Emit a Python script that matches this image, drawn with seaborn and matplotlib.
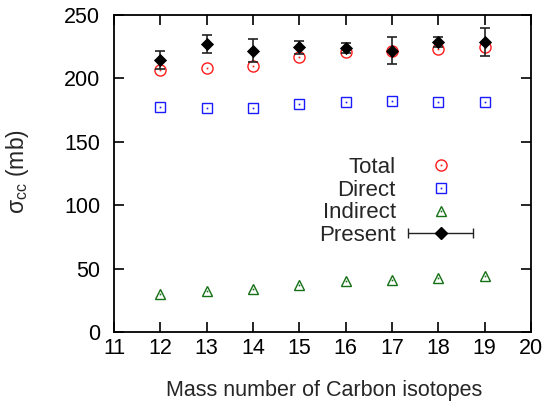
import numpy as np
import pandas as pd
import matplotlib
matplotlib.use("Agg")
import matplotlib.pyplot as plt
import seaborn as sns
from matplotlib.legend_handler import HandlerErrorbar, HandlerTuple
from matplotlib.lines import Line2D

# ---- data ----
mass = [12, 13, 14, 15, 16, 17, 18, 19]
total = [207, 208, 210, 217, 220.5, 222, 223, 225]
direct = [177.5, 176.5, 177, 180, 181, 182, 181, 181.5]
indirect = [30, 32.5, 34, 37.3, 40, 41.2, 42.6, 44.2]
present = [214.5, 227, 222, 224.5, 224, 222, 228.5, 229]
present_err = [7, 7, 9, 5, 4, 11, 4, 11]

xticks = list(range(11, 21))
yticks = [0, 50, 100, 150, 200, 250]

sns.set_theme(style="ticks")
plt.rcParams['font.family'] = ['Liberation Sans', 'DejaVu Sans']
plt.rcParams['mathtext.default'] = 'regular'

fig = plt.figure(figsize=(5.49, 4.04), dpi=100)
ax = fig.add_axes([114/549, 72/404, (531-114)/549, (332-15)/404])

df = pd.DataFrame(dict(mass=mass, total=total, direct=direct,
                       indirect=indirect, present=present, err=present_err))

red = '#ff1a1a'
blue = '#1a1aff'
green = '#147014'

def hollow(col, marker, color, ms):
    sns.lineplot(data=df, x='mass', y=col, ax=ax, marker=marker, linestyle='',
                 markersize=ms, markerfacecolor='none', markeredgecolor=color,
                 markeredgewidth=1.0, color=color, errorbar=None)
    sns.lineplot(data=df, x='mass', y=col, ax=ax, marker='s', linestyle='',
                 markersize=1.2, markerfacecolor=color, markeredgecolor=color,
                 markeredgewidth=0, color=color, errorbar=None)

hollow('total', 'o', red, 8)
hollow('direct', 's', blue, 7.3)
hollow('indirect', '^', green, 7.5)

ax.errorbar(df['mass'], df['present'], yerr=df['err'], fmt='none',
            ecolor='#222222', elinewidth=1.2, capsize=3.8, capthick=1.2, zorder=4)
sns.scatterplot(data=df, x='mass', y='present', ax=ax, marker='D', s=45,
                color='black', edgecolor='black', linewidth=0, zorder=5)

ax.set_xlim(11, 20)
ax.set_ylim(0, 250)
ax.set_xticks(xticks)
ax.set_yticks(yticks)
ax.tick_params(direction='in', length=7, width=1.2, top=True, right=True,
               labelsize=15.5, colors='black')
ax.tick_params(axis='x', top=True, labeltop=False, pad=4)
ax.tick_params(axis='y', pad=10)
for s in ax.spines.values():
    s.set_linewidth(1.3)
    s.set_color('black')
    s.set_visible(True)

ax.set_xlabel('Mass number of Carbon isotopes', fontsize=15.5)
ax.xaxis.set_label_coords((324 - 114) / 417, (332 - 380) / 317)
ax.set_ylabel(r'$\sigma_{cc}$ (mb)', fontsize=16.5)
ax.yaxis.set_label_coords((31 - 114) / 417, (332 - 172) / 317)

# legend proxies
h_tot = (Line2D([], [], marker='o', ls='', ms=8, mfc='none', mec=red, mew=1.0),
         Line2D([], [], marker='s', ls='', ms=1.2, mfc=red, mec=red, mew=0))
h_dir = (Line2D([], [], marker='s', ls='', ms=7.3, mfc='none', mec=blue, mew=1.0),
         Line2D([], [], marker='s', ls='', ms=1.2, mfc=blue, mec=blue, mew=0))
h_ind = (Line2D([], [], marker='^', ls='', ms=7.5, mfc='none', mec=green, mew=1.0),
         Line2D([], [], marker='s', ls='', ms=1.2, mfc=green, mec=green, mew=0))
h_pre = ax.errorbar([np.nan], [np.nan], xerr=[1], fmt='D', color='black', ms=6,
                    ecolor='#222222', elinewidth=1.0, capsize=3.8)

fs = 16
hl = 65 / (fs * 100 / 72)
leg = ax.legend([h_tot, h_dir, h_ind, h_pre], ['Total', 'Direct', 'Indirect', 'Present'],
                handler_map={tuple: HandlerTuple(ndivide=1),
                             type(h_pre): HandlerErrorbar(xerr_size=hl / 2)},
                markerfirst=False, frameon=False, fontsize=fs,
                loc='center right', bbox_to_anchor=(0.861, 0.412),
                borderaxespad=0, borderpad=0, handlelength=hl,
                handletextpad=0.55, labelspacing=0.08, numpoints=1)

fig.savefig('out.png', dpi=100)
